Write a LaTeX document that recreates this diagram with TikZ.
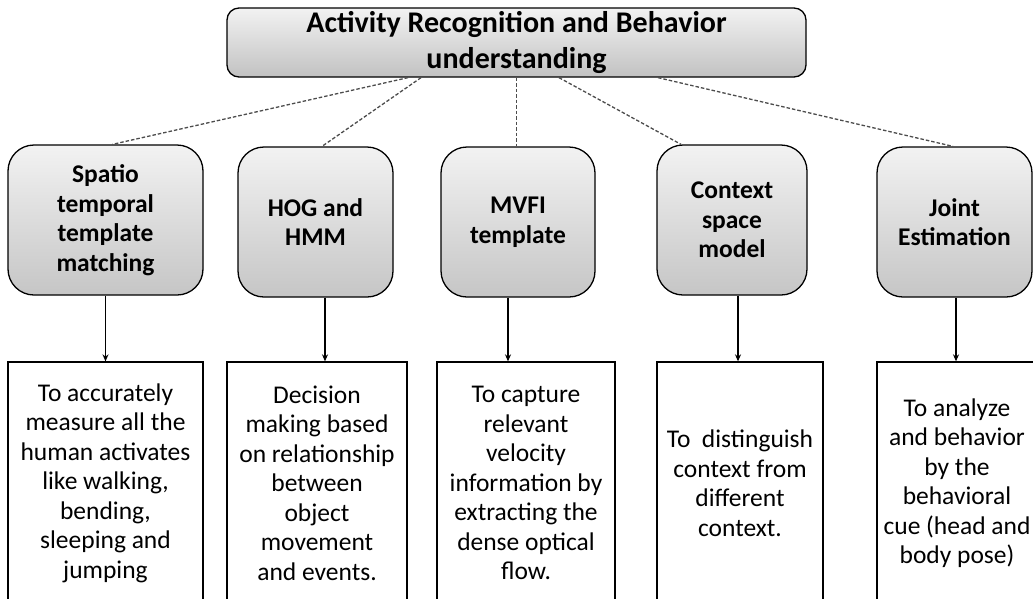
\documentclass[tikz,border=0pt]{standalone}
\usepackage{fontspec}
\setmainfont{Carlito}
\usepackage{tikz}
\usetikzlibrary{arrows.meta}

\begin{document}
\begin{tikzpicture}[x=1pt,y=-1pt,
  head/.style={draw,line width=1.3pt,rounded corners=12pt,top color=gray!10,bottom color=gray!48,
    minimum width=579pt,minimum height=69pt,inner sep=0pt,align=center,
    font=\fontsize{30}{36}\selectfont\bfseries},
  method/.style={draw,line width=1.3pt,rounded corners=26pt,top color=gray!10,bottom color=gray!45,
    minimum height=150pt,inner sep=0pt,align=center,
    font=\fontsize{25.5}{29.5}\selectfont\bfseries},
  desc/.style={draw,line width=1.3pt,fill=white,minimum height=242pt,inner sep=0pt,align=center,
    font=\fontsize{25.5}{29.5}\selectfont},
  link/.style={dash pattern=on 3.5pt off 2pt,line width=1.3pt,black!70},
  >={Stealth[length=7pt,width=6pt]}]
\useasboundingbox (0,0) rectangle (1033,598);
\clip (0,0) rectangle (1033,598);

% top box
\node[head] (act) at (516.5,42.5) {Activity Recognition and Behavior\\understanding};

% methods
\node[method,minimum width=195pt] (stt) at (105.5,220) {Spatio\\temporal\\template\\matching};
\node[method,minimum width=155pt] (hog) at (315.5,222) {HOG and\\HMM};
\node[method,minimum width=154pt] (mvfi) at (518,222) {MVFI\\template};
\node[method,minimum width=150pt] (csm) at (732,220) {Context\\space\\model};
\node[method,minimum width=155pt] (joint) at (954.5,222) {Joint\\Estimation};

% descriptions
\node[desc,minimum width=195pt] (sttd) at (105.5,483) {To accurately\\measure all the\\human activates\\like walking,\\bending,\\sleeping and\\jumping};
\node[desc,minimum width=180pt] (hogd) at (317,483) {Decision\\making based\\on relationship\\between\\object\\movement\\and events.};
\node[desc,minimum width=178pt] (mvfid) at (526,483) {To capture\\relevant\\velocity\\information by\\extracting the\\dense optical\\flow.};
\node[desc,minimum width=166pt] (csmd) at (740,483) {To~~distinguish\\context from\\different\\context.};
\node[desc,minimum width=160pt] (jointd) at (957,483) {To analyze\\and behavior\\by the\\behavioral\\cue (head and\\body pose)};

% dashed links
\draw[link] ([xshift=-108.5pt]act.south) -- ([xshift=7pt]stt.north);
\draw[link] ([xshift=-95.5pt]act.south) -- ([xshift=6.5pt]hog.north);
\draw[link] (act.south) -- (act.south |- mvfi.north);
\draw[link] ([xshift=42.5pt]act.south) -- ([xshift=-51pt]csm.north);
\draw[link] ([xshift=141.5pt]act.south) -- ([xshift=-1.5pt]joint.north);

% arrows
\draw[->,line width=1.2pt] (stt.south) -- (stt.south |- sttd.north);
\draw[->,line width=1.2pt] ([xshift=9.5pt]hog.south) -- ([xshift=9.5pt]hog.south |- hogd.north);
\draw[->,line width=1.2pt] ([xshift=-10pt]mvfi.south) -- ([xshift=-10pt]mvfi.south |- mvfid.north);
\draw[->,line width=1.2pt] ([xshift=6pt]csm.south) -- ([xshift=6pt]csm.south |- csmd.north);
\draw[->,line width=1.2pt] ([xshift=1.5pt]joint.south) -- ([xshift=1.5pt]joint.south |- jointd.north);
\end{tikzpicture}
\end{document}
